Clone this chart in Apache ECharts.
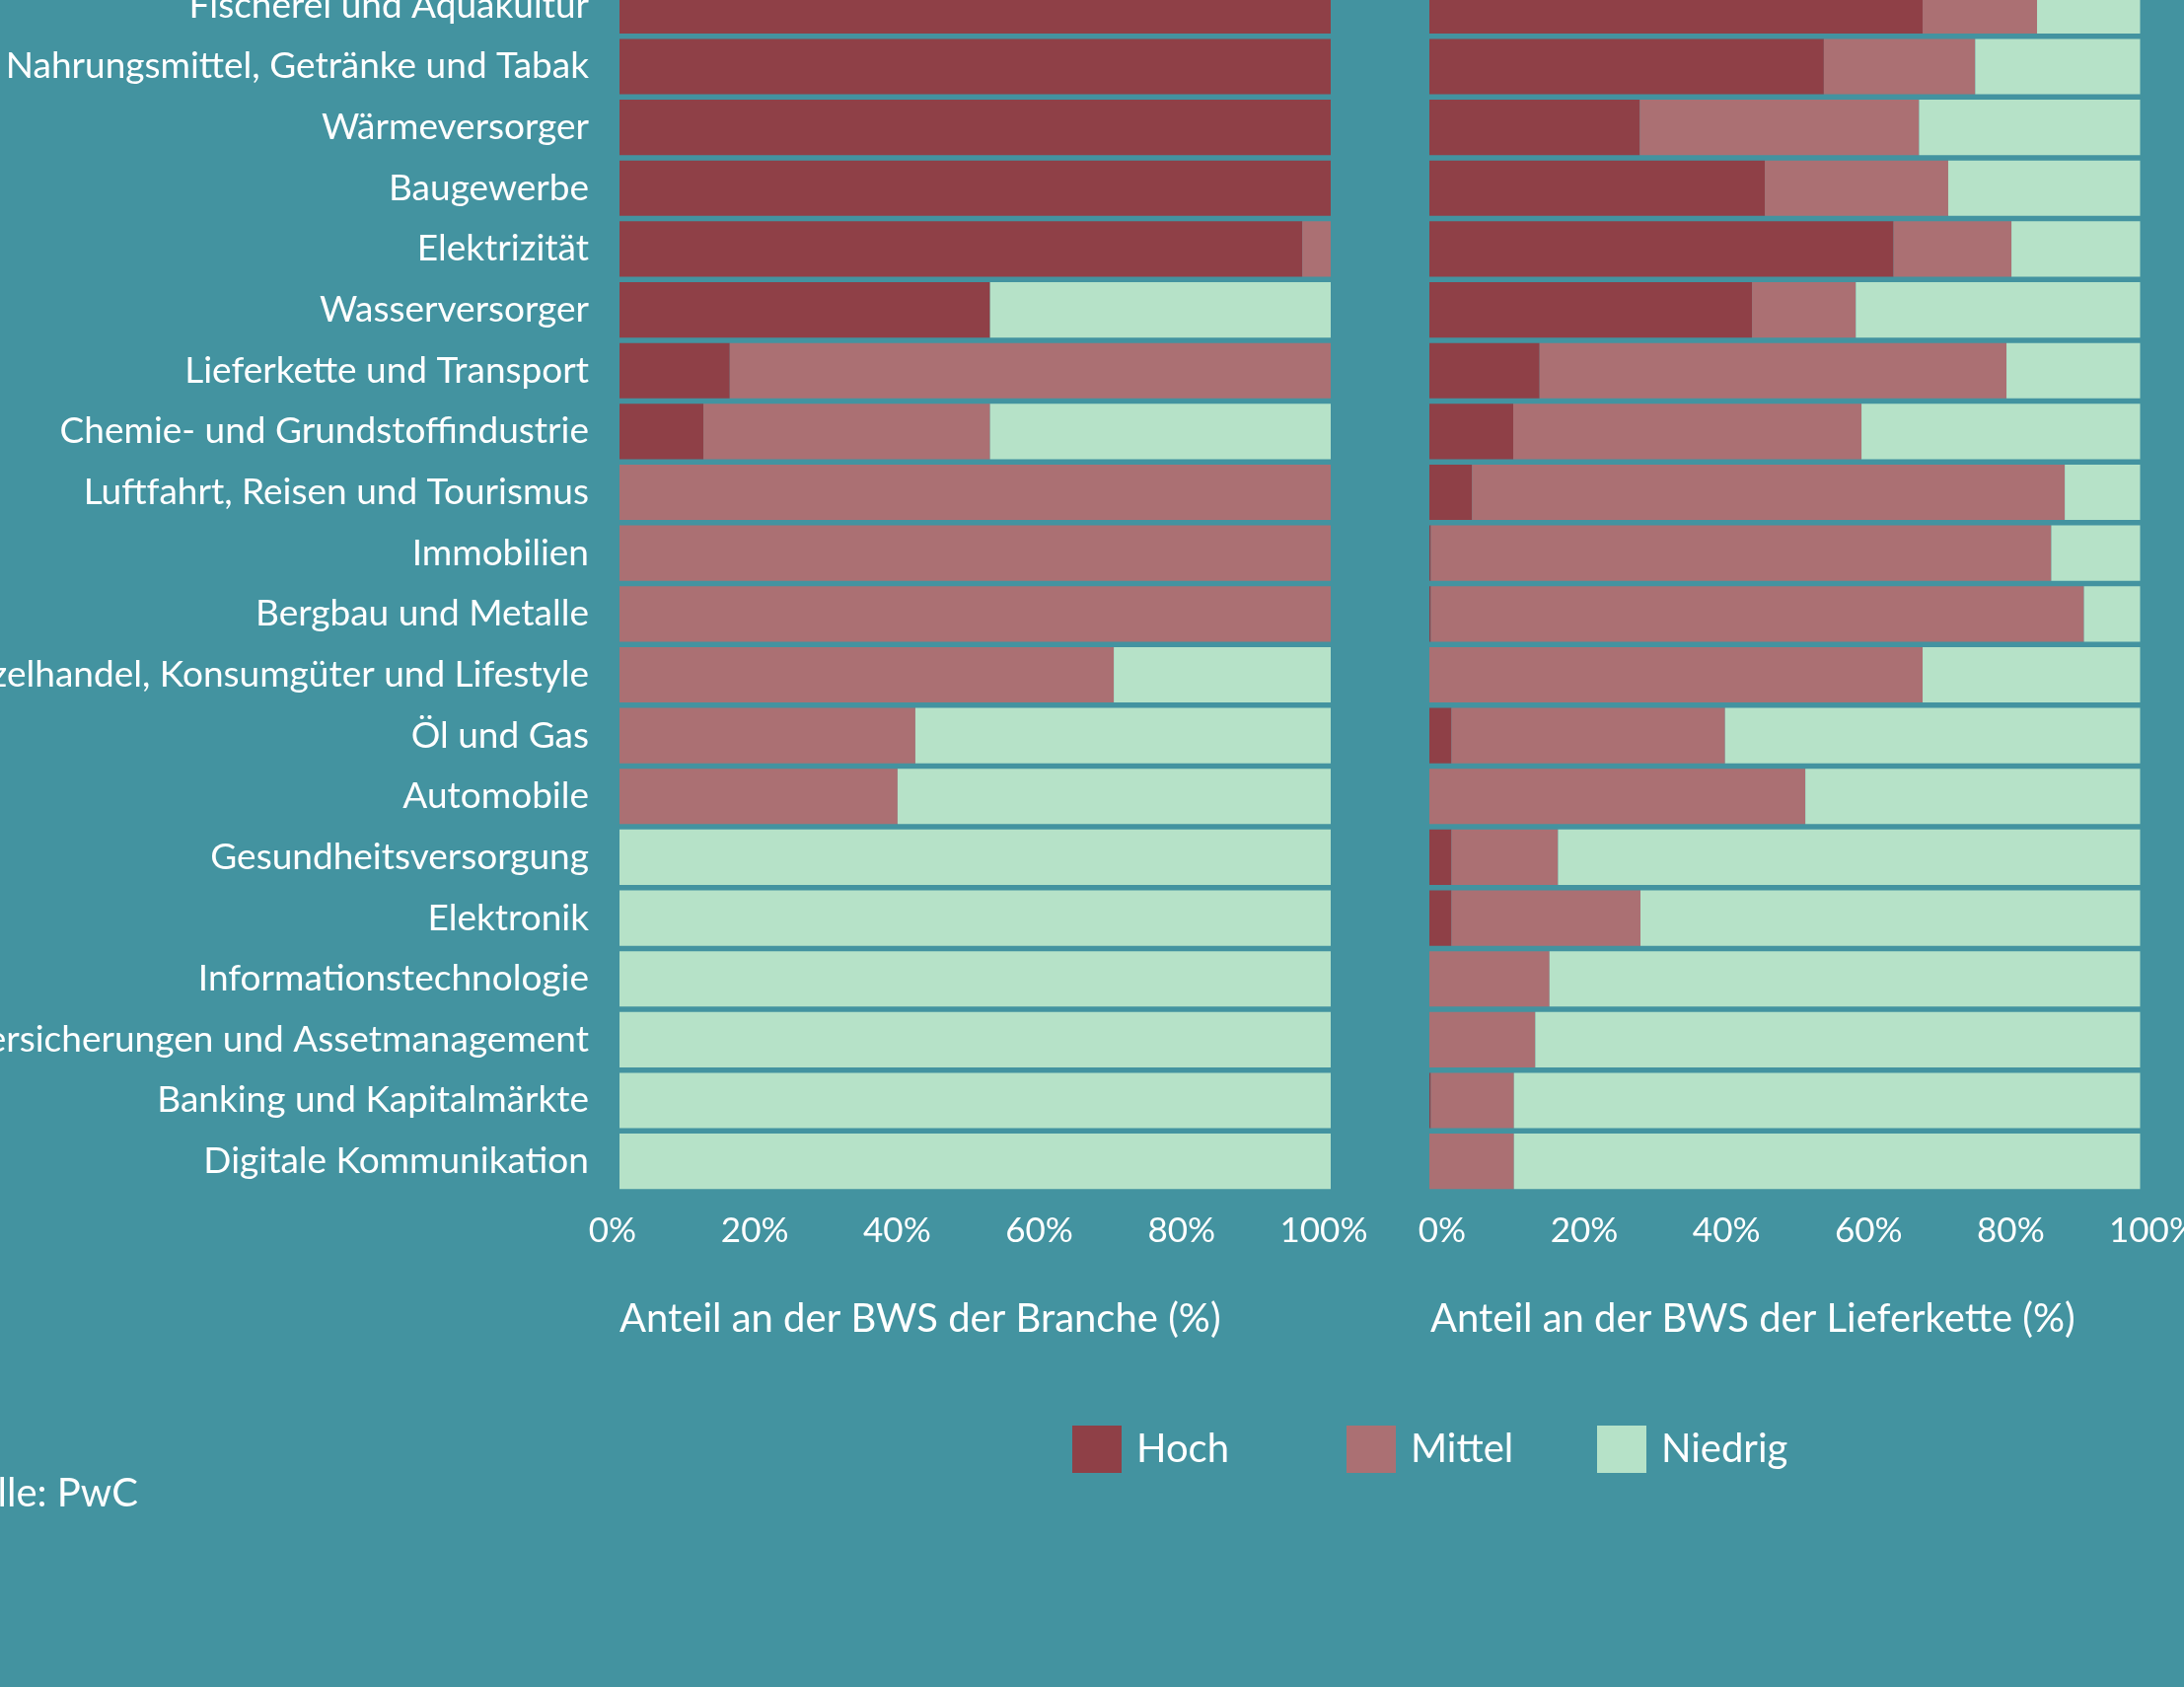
<!DOCTYPE html>
<html>
<head>
<meta charset="utf-8">
<script src="https://cdn.jsdelivr.net/npm/echarts@6/dist/echarts.min.js"></script>
<style>
html,body{margin:0;padding:0;background:#4393a0;}
#chart{width:2214px;height:1710px;}
</style>
</head>
<body>
<div id="chart"></div>
<script>
const categories = ['Fischerei und Aquakultur', 'Nahrungsmittel, Getränke und Tabak', 'Wärmeversorger', 'Baugewerbe', 'Elektrizität', 'Wasserversorger', 'Lieferkette und Transport', 'Chemie- und Grundstoffindustrie', 'Luftfahrt, Reisen und Tourismus', 'Immobilien', 'Bergbau und Metalle', 'Einzelhandel, Konsumgüter und Lifestyle', 'Öl und Gas', 'Automobile', 'Gesundheitsversorgung', 'Elektronik', 'Informationstechnologie', 'Versicherungen und Assetmanagement', 'Banking und Kapitalmärkte', 'Digitale Kommunikation'];
const seriesNames = ['Hoch', 'Mittel', 'Niedrig'];
const brancheHoch    = [100, 100, 100, 100, 96, 52.1, 15.5, 11.8, 0, 0, 0, 0, 0, 0, 0, 0, 0, 0, 0, 0];
const brancheMittel  = [0, 0, 0, 0, 4, 0, 84.5, 40.3, 100, 100, 100, 69.5, 41.6, 39.1, 0, 0, 0, 0, 0, 0];
const brancheNiedrig = [0, 0, 0, 0, 0, 47.9, 0, 47.9, 0, 0, 0, 30.5, 58.4, 60.9, 100, 100, 100, 100, 100, 100];
const lieferHoch     = [69.4, 55.5, 29.6, 47.2, 65.3, 45.4, 15.5, 11.8, 6.0, 0.2, 0.2, 0, 3.1, 0, 3.1, 3.1, 0, 0, 0.2, 0];
const lieferMittel   = [16.1, 21.3, 39.3, 25.8, 16.6, 14.6, 65.7, 49.0, 83.4, 87.3, 91.9, 69.4, 38.5, 52.9, 15.0, 26.6, 16.9, 14.9, 11.7, 11.9];
const lieferNiedrig  = [14.5, 23.2, 31.1, 27.0, 18.1, 40.0, 18.8, 39.2, 10.6, 12.5, 7.9, 30.6, 58.4, 47.1, 81.9, 70.3, 83.1, 85.1, 88.1, 88.1];
const tickValues = [0, 20, 40, 60, 80, 100];
const axisTitles = ['Anteil an der BWS der Branche (%)', 'Anteil an der BWS der Lieferkette (%)'];
const sourceText = 'Quelle: PwC';

const FONT = 'Lato, "Noto Sans", sans-serif';
const colors = ['#8f4047', '#ab7073', '#b6e2c8'];
const chart = echarts.init(document.getElementById('chart'), null, {renderer: 'canvas'});

function xAxis(gridIndex, pad) {
  return {
    type: 'value', gridIndex, min: tickValues[0], max: tickValues[tickValues.length - 1], interval: 20,
    axisLine: {show: false}, axisTick: {show: false}, splitLine: {show: false},
    axisLabel: {color: '#ffffff', fontFamily: FONT, fontSize: 35, margin: 22, padding: pad, formatter: '{value}%'}
  };
}
function yAxis(gridIndex, showLabels) {
  return {
    type: 'category', gridIndex, data: categories, inverse: true,
    axisLine: {show: false}, axisTick: {show: false}, splitLine: {show: false},
    axisLabel: {show: showLabels, color: '#ffffff', fontFamily: FONT, fontSize: 37, margin: 31, padding: [10, 0, 0, 0]}
  };
}
function bar(name, data, idx, color) {
  return {
    name, type: 'bar', stack: 'p' + idx, xAxisIndex: idx, yAxisIndex: idx, data,
    barCategoryGap: '9%', itemStyle: {color}, animation: false, silent: true
  };
}
const lefts = [1087, 1365, 1619];
chart.setOption({
  backgroundColor: '#4393a0',
  animation: false,
  grid: [
    {left: 628, width: 721, top: -25, height: 1233, containLabel: false, outerBoundsMode: 'none'},
    {left: 1449, width: 720.5, top: -25, height: 1233, containLabel: false, outerBoundsMode: 'none'}
  ],
  xAxis: [xAxis(0, [0, 14, 0, 0]), xAxis(1, [0, 0, 0, 26])],
  yAxis: [yAxis(0, true), yAxis(1, false)],
  legend: seriesNames.map((n, i) => ({
    data: [n], left: lefts[i], top: 1445, padding: 0, itemWidth: 50, itemHeight: 48, icon: 'rect',
    selectedMode: false,
    textStyle: {color: '#ffffff', fontFamily: FONT, fontSize: 40, padding: [0, 0, 0, 10]}
  })),
  series: [
    bar(seriesNames[0], brancheHoch, 0, colors[0]),
    bar(seriesNames[1], brancheMittel, 0, colors[1]),
    bar(seriesNames[2], brancheNiedrig, 0, colors[2]),
    bar(seriesNames[0], lieferHoch, 1, colors[0]),
    bar(seriesNames[1], lieferMittel, 1, colors[1]),
    bar(seriesNames[2], lieferNiedrig, 1, colors[2])
  ],
  graphic: [
    {type: 'text', left: 628, top: 1317, style: {text: axisTitles[0], fill: '#ffffff', font: '40px ' + FONT}},
    {type: 'text', left: 1450, top: 1317, style: {text: axisTitles[1], fill: '#ffffff', font: '40px ' + FONT}},
    {type: 'text', x: 140, y: 1514, style: {text: sourceText, fill: '#ffffff', font: '40px ' + FONT, align: 'right', verticalAlign: 'middle'}}
  ]
});
</script>
</body>
</html>
